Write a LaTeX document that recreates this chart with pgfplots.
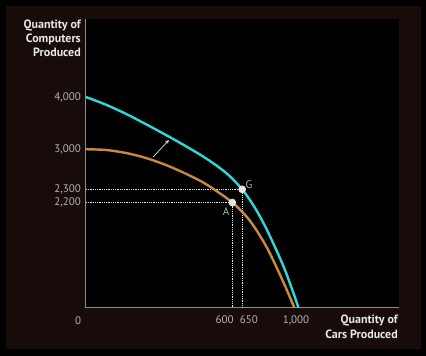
\documentclass[border=0pt]{standalone}
\usepackage{pgfplots}
\pgfplotsset{compat=1.18}
\usepackage{fontspec}
\setmainfont{PT Sans}
\definecolor{panel}{HTML}{170C09}
\definecolor{cyanc}{HTML}{2ED8D8}
\definecolor{orangec}{HTML}{C98A3E}
\definecolor{tickc}{HTML}{B4B4B4}
\definecolor{titlec}{HTML}{E8E8E8}
\definecolor{axisc}{HTML}{8C8C8C}
\definecolor{dotc}{HTML}{E6E6E6}
\begin{document}
\begin{tikzpicture}
\fill[black] (-86pt,-48pt) rectangle (340pt,308pt);
\fill[panel] (-80pt,-41pt) rectangle (335pt,302pt);
\begin{axis}[
  at={(0pt,0pt)}, anchor=south west,
  scale only axis, width=313pt, height=289pt,
  xmin=0, xmax=1483, ymin=0, ymax=5480,
  axis background/.style={fill=black},
  axis x line=bottom, axis y line=left,
  axis line style={-, draw=axisc, line width=1pt},
  major tick length=0pt,
  /pgf/number format/assume math mode=true,
  xtick={657,772,995}, xticklabels={600,650,{1,000}},
  ytick={2000,2250,3000,4000}, yticklabels={{2,200},{2,300},{3,000},{4,000}},
  xticklabel style={text=tickc, font=\fontsize{11}{13}\selectfont, anchor=north, inner sep=0pt, yshift=-7.5pt},
  yticklabel style={text=tickc, font=\fontsize{11}{13}\selectfont, anchor=east, inner sep=0pt, xshift=-5pt},
]
% dotted guide lines
\addplot[dotc, densely dotted, line width=0.8pt] coordinates {(0,2250) (740,2250) (740,0)};
\addplot[dotc, densely dotted, line width=0.8pt] coordinates {(0,2000) (693,2000) (693,0)};
% original PPF
\addplot[orangec, line width=2.4pt, smooth, tension=0.5] coordinates {
 (0,3010) (95,2996) (190,2939) (284,2844) (379,2711) (474,2544) (569,2347)
 (692,2005) (777,1653) (858,1138) (934,501) (988,0)};
% new PPF
\addplot[cyanc, line width=2.4pt, smooth, tension=0.5] coordinates {
 (0,4000) (95,3854) (190,3680) (284,3485) (379,3280) (474,3066) (569,2836)
 (664,2561) (739,2254) (801,1896) (858,1475) (934,808) (981,305) (1007,0)};
% points
\addplot[only marks, mark=*, mark size=3.6pt, mark options={fill=dotc, draw=dotc}] coordinates {(740,2250) (693,2000)};
\node[text=tickc, font=\fontsize{11}{13}\selectfont] at (axis cs:772,2340) {G};
\node[text=tickc, font=\fontsize{11}{13}\selectfont] at (axis cs:664,1820) {A};
\draw[-stealth, dotc, line width=0.7pt] (axis cs:318,2863) -- (axis cs:393,3185);
\end{axis}
\node[anchor=north east, align=right, inner sep=0pt, text=titlec,
  font=\bfseries\fontsize{12}{14}\selectfont] at (-5pt,288pt) {Quantity of\\Computers\\Produced};
\node[anchor=north east, align=right, inner sep=0pt, text=titlec,
  font=\bfseries\fontsize{12}{15}\selectfont] at (312pt,-7pt) {Quantity of\\Cars Produced};
\node[text=tickc, font=\fontsize{11}{13}\selectfont, inner sep=0pt] at (-8pt,-12.5pt) {0};
\pgfresetboundingbox
\useasboundingbox (-86pt,-48pt) rectangle (340pt,308pt);
\end{tikzpicture}
\end{document}
